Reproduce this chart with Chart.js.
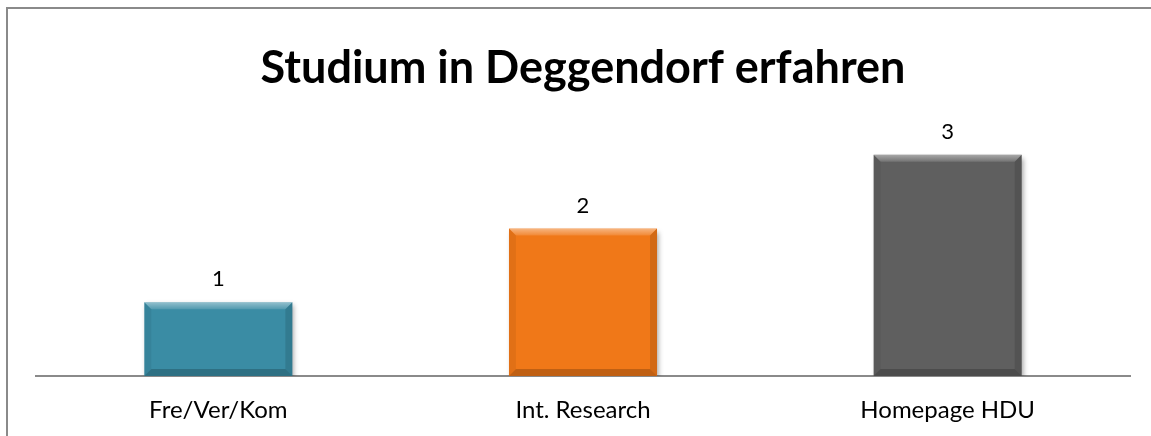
<!DOCTYPE html>
<html>
<head>
<meta charset="utf-8">
<script src="https://cdn.jsdelivr.net/npm/chart.js@4.4.1/dist/chart.umd.min.js"></script>
<style>
  html, body { margin: 0; padding: 0; background: #fff; }
  #wrap { width: 1151px; height: 436px; }
</style>
</head>
<body>
<div id="wrap"><canvas id="chart"></canvas></div>
<script>
var categories = ['Fre/Ver/Kom', 'Int. Research', 'Homepage HDU'];
var values = [1, 2, 3];
var barColors = ['#3a8ca4', '#f07818', '#5f5f5f'];
var chartTitle = 'Studium in Deggendorf erfahren';

// frame around the whole chart
var framePlugin = {
    id: 'frame',
    afterDraw: function(chart) {
        var ctx = chart.ctx;
        ctx.save();
        ctx.strokeStyle = '#8a8a8a';
        ctx.lineWidth = 2;
        ctx.beginPath();
        ctx.moveTo(7, chart.height);
        ctx.lineTo(7, 8);
        ctx.lineTo(chart.width, 8);
        ctx.stroke();
        ctx.restore();
    }
};

// soft shadow under the bars
var shadowPlugin = {
    id: 'shadow',
    beforeDatasetsDraw: function(chart) {
        var ctx = chart.ctx;
        ctx.save();
        ctx.shadowColor = 'rgba(0,0,0,0.35)';
        ctx.shadowBlur = 5;
        ctx.shadowOffsetX = 2;
        ctx.shadowOffsetY = 3;
    },
    afterDatasetsDraw: function(chart) {
        chart.ctx.restore();
    }
};

// bevel look + value labels
var barPlugin = {
    id: 'bars',
    afterDatasetsDraw: function(chart) {
        var ctx = chart.ctx;
        var meta = chart.getDatasetMeta(0);
        ctx.save();
        meta.data.forEach(function(bar, i) {
            var l = bar.x - bar.width / 2, r = bar.x + bar.width / 2;
            var t = bar.y, b = bar.base;
            var e = 7;
            var g = ctx.createLinearGradient(0, t, 0, t + e);
            g.addColorStop(0, 'rgba(255,255,255,0.45)');
            g.addColorStop(1, 'rgba(255,255,255,0.12)');
            ctx.fillStyle = g;
            ctx.beginPath();
            ctx.moveTo(l, t); ctx.lineTo(r, t); ctx.lineTo(r - e, t + e); ctx.lineTo(l + e, t + e);
            ctx.closePath(); ctx.fill();
            ctx.fillStyle = 'rgba(0,0,0,0.06)';
            ctx.beginPath();
            ctx.moveTo(l, t); ctx.lineTo(l + e, t + e); ctx.lineTo(l + e, b - e); ctx.lineTo(l, b);
            ctx.closePath(); ctx.fill();
            ctx.fillStyle = 'rgba(0,0,0,0.12)';
            ctx.beginPath();
            ctx.moveTo(r, t); ctx.lineTo(r - e, t + e); ctx.lineTo(r - e, b - e); ctx.lineTo(r, b);
            ctx.closePath(); ctx.fill();
            ctx.fillStyle = 'rgba(0,0,0,0.2)';
            ctx.beginPath();
            ctx.moveTo(l, b); ctx.lineTo(r, b); ctx.lineTo(r - e, b - e); ctx.lineTo(l + e, b - e);
            ctx.closePath(); ctx.fill();
            // value label
            ctx.fillStyle = '#000';
            ctx.font = '22px Lato, "Open Sans", sans-serif';
            ctx.textAlign = 'center';
            ctx.textBaseline = 'middle';
            ctx.fillText(String(values[i]), bar.x, t - 23);
        });
        ctx.restore();
    }
};

new Chart(document.getElementById('chart'), {
    type: 'bar',
    data: {
        labels: categories,
        datasets: [{
            data: values,
            backgroundColor: barColors,
            borderWidth: 0,
            barPercentage: 0.5,
            categoryPercentage: 0.812
        }]
    },
    options: {
        responsive: true,
        maintainAspectRatio: false,
        animation: false,
        layout: { padding: { left: 36, right: 21, top: 10, bottom: 0 } },
        plugins: {
            legend: { display: false },
            tooltip: { enabled: false },
            title: {
                display: true,
                text: chartTitle,
                color: '#000',
                font: { family: 'Lato, "Open Sans", sans-serif', size: 45, weight: 'bold', lineHeight: 1.2 },
                padding: { top: 31, bottom: 23 }
            }
        },
        scales: {
            x: {
                grid: { display: false, drawTicks: false },
                border: { display: true, color: '#8a8a8a', width: 2 },
                ticks: {
                    color: '#000',
                    padding: 20,
                    font: { family: 'Lato, "Open Sans", sans-serif', size: 24, lineHeight: 1.2 }
                },
                afterFit: function(scale) {
                    scale.height = 60;
                }
            },
            y: {
                display: false,
                min: 0,
                max: 3.5
            }
        }
    },
    plugins: [framePlugin, shadowPlugin, barPlugin]
});
</script>
</body>
</html>
